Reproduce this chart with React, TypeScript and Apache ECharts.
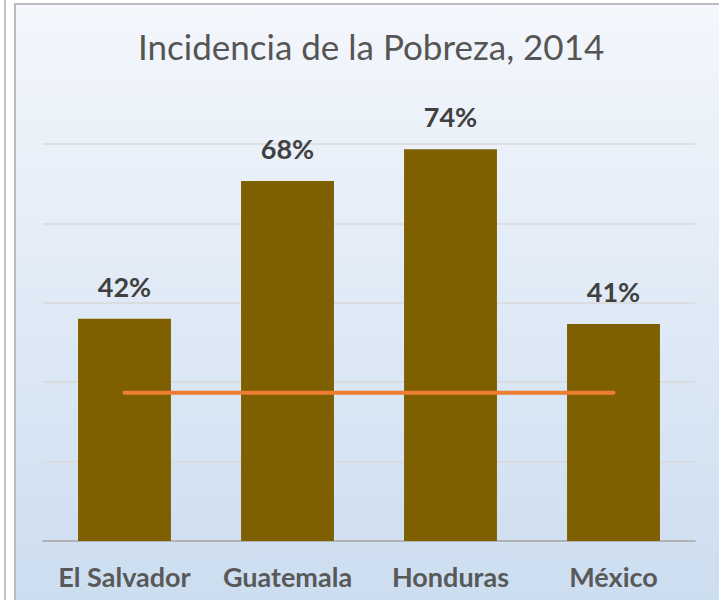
import React, { useEffect, useRef } from "react";
import * as echarts from "echarts";

const categories = ["El Salvador", "Guatemala", "Honduras", "México"];
const poverty = [42, 68, 74, 41];
const referenceLine = [28, 28, 28, 28];

export default function App() {
  const ref = useRef<HTMLDivElement>(null);
  useEffect(() => {
    document.body.style.margin = "0";
    const chart = echarts.init(ref.current!, null, { renderer: "svg" });
    chart.setOption({
      animation: false,
      backgroundColor: "#ffffff",
      graphic: [
        { type: "rect", z: -10, shape: { x: 4, y: 0, width: 2, height: 600 }, style: { fill: "#c4c4c4" } },
        {
          type: "rect",
          z: -10,
          shape: { x: 15, y: 4, width: 720, height: 610 },
          style: {
            fill: new echarts.graphic.LinearGradient(0, 0, 0, 1, [
              { offset: 0, color: "#f4f7fc" },
              { offset: 1, color: "#cbddf0" },
            ]),
            stroke: "#bcbcbc",
            lineWidth: 2,
          },
        },
      ],
      title: {
        text: "Incidencia de la Pobreza, 2014",
        left: 138,
        top: 28,
        padding: 0,
        textStyle: { fontFamily: "Lato", fontSize: 35, fontWeight: "normal", color: "#555555" },
      },
      grid: { left: 43, right: 24, top: 144, bottom: 59, containLabel: false },
      xAxis: {
        type: "category",
        data: categories,
        axisTick: { show: false },
        axisLine: { lineStyle: { color: "#a6a6a6", width: 1.5 } },
        axisLabel: {
          interval: 0,
          hideOverlap: false,
          fontFamily: "Lato",
          fontSize: 27,
          fontWeight: "bold",
          color: "#595959",
          margin: 22,
        },
      },
      yAxis: {
        type: "value",
        min: 0,
        max: 75,
        interval: 15,
        axisLabel: { show: false },
        axisLine: { show: false },
        axisTick: { show: false },
        splitLine: { lineStyle: { color: "#d9d9d9", width: 1.5 } },
      },
      series: [
        {
          type: "bar",
          data: poverty,
          barWidth: "57%",
          itemStyle: { color: "#7f6000" },
          label: {
            show: true,
            position: "top",
            distance: 19,
            formatter: "{c}%",
            fontFamily: "Lato",
            fontSize: 27,
            fontWeight: "bold",
            color: "#404040",
          },
        },
        {
          type: "line",
          data: referenceLine,
          symbol: "none",
          lineStyle: { color: "#ed7d31", width: 4, cap: "round" },
          z: 5,
        },
      ],
    });
    return () => chart.dispose();
  }, []);
  return <div ref={ref} style={{ position: "fixed", left: 0, top: 0, width: 719, height: 600 }} />;
}
